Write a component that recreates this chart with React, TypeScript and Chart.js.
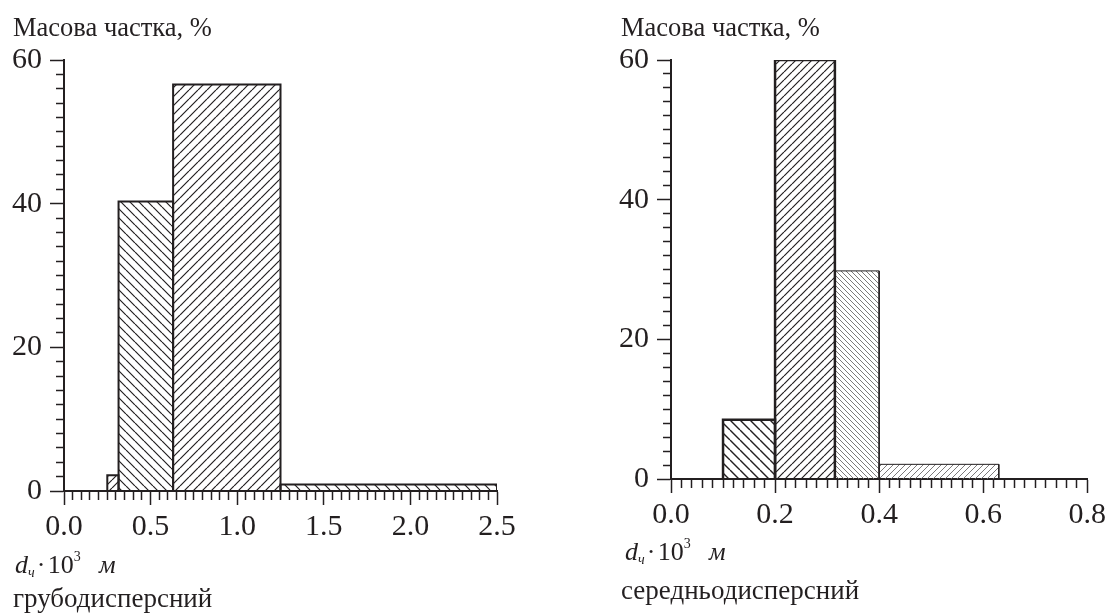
import React, { useEffect, useRef } from 'react';
import { Chart, registerables } from 'chart.js';

Chart.register(...registerables);

// ---------- data ----------
const coarseEdges = [0.25, 0.315, 0.63, 1.25, 2.5];
const coarseValues = [2.2, 40.3, 56.6, 0.9];
const mediumEdges = [0.1, 0.2, 0.315, 0.4, 0.63];
const mediumValues = [8.5, 60, 29.8, 2.1];

const yMax = 60;
const yMinorStep = 2;
const yMajorStep = 20;
const coarseXMax = 2.5;
const coarseXMinorStep = 0.05;
const coarseXMajorStep = 0.5;
const mediumXMax = 0.8;
const mediumXMinorStep = 0.02;
const mediumXMajorStep = 0.2;

const yAxisTitle = 'Масова частка, %';
const coarseCaption = 'грубодисперсний';
const mediumCaption = 'середньодисперсний';

// ---------- styles ----------
const INK = '#231f20';
const GREY = '#6d6b6b';
const FONT = '"Liberation Serif", "Times New Roman", serif';

type Hatch = { dir: '/' | '\\'; size: number; color: string; lw: number };

const coarseHatches: Hatch[] = [
  { dir: '/', size: 8, color: INK, lw: 1.2 },
  { dir: '\\', size: 9, color: INK, lw: 1.2 },
  { dir: '/', size: 9, color: INK, lw: 1.2 },
  { dir: '\\', size: 10, color: INK, lw: 1.2 },
];
const coarseBorders = [2, 2, 2, 2];

const mediumHatches: Hatch[] = [
  { dir: '\\', size: 10, color: INK, lw: 1.4 },
  { dir: '/', size: 8, color: INK, lw: 1.2 },
  { dir: '\\', size: 5, color: GREY, lw: 0.9 },
  { dir: '/', size: 6, color: GREY, lw: 0.9 },
];
const mediumBorders = [2.5, 2.5, 1, 1];

function makeHatch(h: Hatch): CanvasPattern | string {
  const c = document.createElement('canvas');
  c.width = h.size;
  c.height = h.size;
  const g = c.getContext('2d');
  if (!g) return 'transparent';
  g.strokeStyle = h.color;
  g.lineWidth = h.lw;
  g.beginPath();
  for (let k = -1; k <= 1; k++) {
    if (h.dir === '/') {
      g.moveTo(k * h.size, h.size);
      g.lineTo(k * h.size + h.size, 0);
    } else {
      g.moveTo(k * h.size, 0);
      g.lineTo(k * h.size + h.size, h.size);
    }
  }
  g.stroke();
  return g.createPattern(c, 'repeat') || 'transparent';
}

const near = (v: number, step: number) => Math.abs(v / step - Math.round(v / step)) < 1e-6;

type Panel = {
  left: number;
  width: number;
  plotLeft: number;
  plotRight: number;
  plotTop: number;
  plotBottom: number;
  edges: number[];
  values: number[];
  hatches: Hatch[];
  borders: number[];
  xMax: number;
  xMinor: number;
  xMajor: number;
};

const H = 615;
const X_AXIS_H = 60;
const TICK_FONT = 30;

function buildConfig(p: Panel): any {
  const datasets = p.values.map((v, i) => ({
    data: [
      { x: p.edges[i], y: 0 },
      { x: p.edges[i], y: v },
      { x: p.edges[i + 1], y: v },
      { x: p.edges[i + 1], y: 0 },
    ],
    borderColor: INK,
    borderWidth: p.borders[i],
    backgroundColor: makeHatch(p.hatches[i]),
    fill: 'origin',
    pointRadius: 0,
    pointHoverRadius: 0,
    tension: 0,
    borderJoinStyle: 'miter',
    borderCapStyle: 'butt',
  }));

  return {
    type: 'line',
    data: { datasets },
    options: {
      animation: false,
      responsive: false,
      devicePixelRatio: 1,
      events: [],
      layout: {
        padding: {
          left: 0,
          top: p.plotTop,
          right: p.width - p.plotRight,
          bottom: H - p.plotBottom - X_AXIS_H,
        },
      },
      plugins: {
        legend: { display: false },
        tooltip: { enabled: false },
        title: { display: false },
        filler: { drawTime: 'beforeDatasetsDraw' },
      },
      scales: {
        x: {
          type: 'linear',
          min: 0,
          max: p.xMax,
          afterFit: (s: any) => {
            s.height = X_AXIS_H;
          },
          border: { display: true, color: INK, width: 2 },
          grid: {
            display: true,
            drawOnChartArea: false,
            drawTicks: true,
            tickLength: 14,
            tickWidth: 1.5,
            tickColor: INK,
            tickBorderDash: (ctx: any) =>
              ctx.tick && !near(ctx.tick.value, p.xMajor) ? [8, 30] : [],
            tickBorderDashOffset: 0,
          },
          ticks: {
            stepSize: p.xMinor,
            maxTicksLimit: 1000,
            autoSkip: false,
            maxRotation: 0,
            minRotation: 0,
            padding: 4,
            color: INK,
            font: { family: FONT, size: TICK_FONT },
            callback: (v: number) => (near(v, p.xMajor) ? v.toFixed(1) : ''),
          },
        },
        y: {
          type: 'linear',
          min: 0,
          max: yMax,
          afterFit: (s: any) => {
            s.width = p.plotLeft;
          },
          border: { display: true, color: INK, width: 2 },
          grid: {
            display: true,
            drawOnChartArea: false,
            drawTicks: true,
            tickLength: 14,
            tickWidth: 1.5,
            tickColor: INK,
            tickBorderDash: (ctx: any) =>
              ctx.tick && !near(ctx.tick.value, yMajorStep) ? [8, 6] : [],
            tickBorderDashOffset: (ctx: any) =>
              ctx.tick && !near(ctx.tick.value, yMajorStep) ? 8 : 0,
          },
          ticks: {
            stepSize: yMinorStep,
            maxTicksLimit: 1000,
            autoSkip: false,
            padding: 8,
            color: INK,
            font: { family: FONT, size: TICK_FONT },
            callback: (v: number) => (near(v, yMajorStep) ? String(Math.round(v)) : ''),
          },
        },
      },
    },
  };
}

const coarsePanel: Panel = {
  left: 0,
  width: 560,
  plotLeft: 64,
  plotRight: 497,
  plotTop: 60,
  plotBottom: 491,
  edges: coarseEdges,
  values: coarseValues,
  hatches: coarseHatches,
  borders: coarseBorders,
  xMax: coarseXMax,
  xMinor: coarseXMinorStep,
  xMajor: coarseXMajorStep,
};

const mediumPanel: Panel = {
  left: 560,
  width: 550,
  plotLeft: 111,
  plotRight: 531,
  plotTop: 60,
  plotBottom: 479,
  edges: mediumEdges,
  values: mediumValues,
  hatches: mediumHatches,
  borders: mediumBorders,
  xMax: mediumXMax,
  xMinor: mediumXMinorStep,
  xMajor: mediumXMajorStep,
};

function Histogram({ panel }: { panel: Panel }) {
  const ref = useRef<HTMLCanvasElement>(null);
  useEffect(() => {
    if (!ref.current) return;
    const chart = new Chart(ref.current, buildConfig(panel));
    return () => chart.destroy();
  }, [panel]);
  return (
    <canvas
      ref={ref}
      width={panel.width}
      height={H}
      style={{ position: 'absolute', left: panel.left, top: 0, width: panel.width, height: H, display: 'block' }}
    />
  );
}

function Txt({ left, baseline, size, children }: { left: number; baseline: number; size: number; children: any }) {
  return (
    <div
      style={{
        position: 'absolute',
        left,
        top: baseline - 0.8375 * size,
        fontFamily: FONT,
        fontSize: size,
        lineHeight: `${size}px`,
        color: INK,
        whiteSpace: 'pre',
      }}
    >
      {children}
    </div>
  );
}

function Formula({ left, baseline }: { left: number; baseline: number }) {
  const small = { fontSize: 14, lineHeight: 0 } as const;
  return (
    <Txt left={left} baseline={baseline} size={26}>
      <i>d</i><sub style={{ ...small, verticalAlign: '-0.3em' }}><i>ч</i></sub>{'\u200a·\u200a10'}<sup style={{ ...small, verticalAlign: '0.85em' }}>3</sup>{'\u2002\u2009'}<i>м</i>
    </Txt>
  );
}

export default function App() {
  return (
    <div style={{ position: 'absolute', left: 0, top: 0, width: 1110, height: H, background: '#fff', overflow: 'hidden' }}>
      <Histogram panel={coarsePanel} />
      <Histogram panel={mediumPanel} />
      <Txt left={13} baseline={36} size={26.5}>{yAxisTitle}</Txt>
      <Txt left={621} baseline={36} size={26.5}>{yAxisTitle}</Txt>
      <Formula left={15} baseline={574} />
      <Formula left={625} baseline={561} />
      <Txt left={13} baseline={608} size={27}>{coarseCaption}</Txt>
      <Txt left={621} baseline={600} size={27}>{mediumCaption}</Txt>
    </div>
  );
}
